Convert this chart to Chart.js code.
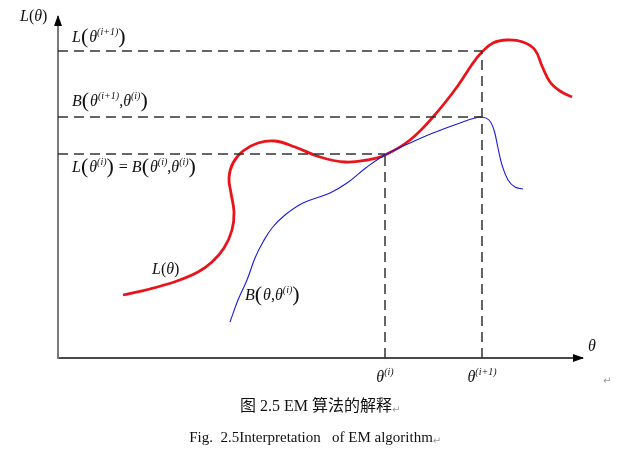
<!DOCTYPE html>
<html>
<head>
<meta charset="utf-8">
<script src="https://cdn.jsdelivr.net/npm/chart.js@4"></script>
<style>
  html, body { margin: 0; padding: 0; background: #fff; }
  #wrap { width: 623px; height: 461px; }
</style>
</head>
<body>
<div id="wrap"><canvas id="emChart" width="623" height="461"></canvas></div>
<script>
// curve points (theta units, L units)
const redX = [65, 92, 119, 140, 154, 166, 174, 176, 173, 171, 175, 185, 200, 217, 237, 262, 287, 309, 327, 352, 375, 399, 415, 424, 435, 449, 465, 477, 484, 492, 502, 514];
const redY = [63, 69, 77, 86, 96, 110, 128, 146, 165, 180, 195, 207, 215, 217, 211, 201, 196, 198, 203, 218, 241, 271, 295, 306, 315, 318, 316, 308, 292, 276, 267, 261];
const blueX = [172, 180, 189, 197, 205, 214, 227, 245, 272, 289, 309, 327, 352, 375, 402, 417, 424, 431, 436, 440, 444, 450, 457, 465];
const blueY = [36, 58, 78, 100, 116, 130, 143, 155, 165, 175, 191, 203, 215, 225, 235, 240, 241, 238, 228, 210, 193, 178, 171, 169];

// theta^(i), theta^(i+1) and the three levels
const thetaTicks = [327, 424];
const levels = [307, 241, 204];   // L(θ(i+1)), B(θ(i+1),θ(i)), L(θ(i))

const pts = (xs, ys) => xs.map((x, i) => ({ x: x, y: ys[i] }));

const dashStyle = { borderColor: '#333', borderWidth: 1.5, borderDash: [10, 6], pointRadius: 0, showLine: true, tension: 0 };

const datasets = [
  Object.assign({ data: [{ x: 0, y: levels[0] }, { x: thetaTicks[1], y: levels[0] }] }, dashStyle),
  Object.assign({ data: [{ x: 0, y: levels[1] }, { x: thetaTicks[1], y: levels[1] }] }, dashStyle),
  Object.assign({ data: [{ x: 0, y: levels[2] }, { x: thetaTicks[0], y: levels[2] }] }, dashStyle),
  Object.assign({ data: [{ x: thetaTicks[0], y: 0 }, { x: thetaTicks[0], y: levels[2] }] }, dashStyle),
  Object.assign({ data: [{ x: thetaTicks[1], y: 0 }, { x: thetaTicks[1], y: levels[0] }] }, dashStyle),
  { data: pts(blueX, blueY), borderColor: '#1a1ad8', borderWidth: 1.1, pointRadius: 0, showLine: true, tension: 0.4 },
  { data: pts(redX, redY), borderColor: '#e8141a', borderWidth: 2.8, pointRadius: 0, showLine: true, tension: 0.4 }
];

const SERIF = '"Liberation Serif", "DejaVu Serif", serif';

// draws math-ish text: parts of [text, kind] where kind: n normal, i italic, s superscript, p big paren
function drawRich(ctx, parts, x, y, size, align) {
  const fontFor = k => {
    if (k === 's') return 'italic ' + Math.round(size * 0.62) + 'px ' + SERIF;
    if (k === 'p') return Math.round(size * 1.4) + 'px ' + SERIF;
    if (k === 'i') return 'italic ' + size + 'px ' + SERIF;
    return size + 'px ' + SERIF;
  };
  let w = 0;
  parts.forEach(p => { ctx.font = fontFor(p[1]); w += ctx.measureText(p[0]).width + (p[1] === 'p' ? 1 : 0); });
  let cx = align === 'center' ? x - w / 2 : x;
  ctx.textBaseline = 'middle';
  ctx.textAlign = 'left';
  parts.forEach(p => {
    ctx.font = fontFor(p[1]);
    const dy = p[1] === 's' ? -size * 0.38 : (p[1] === 'p' ? -1 : 0);
    ctx.fillText(p[0], cx, y + dy);
    cx += ctx.measureText(p[0]).width + (p[1] === 'p' ? 1 : 0);
  });
}

const labelPlugin = {
  id: 'labels',
  afterDraw(chart) {
    const ctx = chart.ctx;
    const xs = chart.scales.x, ys = chart.scales.y;
    const a = chart.chartArea;
    ctx.save();
    ctx.fillStyle = '#000';
    // axis arrows
    ctx.beginPath();
    ctx.moveTo(a.left, a.top - 2); ctx.lineTo(a.left - 4, a.top + 9); ctx.lineTo(a.left + 4, a.top + 9); ctx.closePath();
    ctx.fill();
    ctx.beginPath();
    ctx.moveTo(a.right + 2, a.bottom); ctx.lineTo(a.right - 9, a.bottom - 4); ctx.lineTo(a.right - 9, a.bottom + 4); ctx.closePath();
    ctx.fill();

    ctx.fillStyle = '#111';
    const s = 16;
    drawRich(ctx, [['L', 'i'], ['(', 'n'], ['θ', 'i'], [')', 'n']], 20, 17, s, 'left');
    drawRich(ctx, [['L', 'i'], ['(', 'p'], ['θ', 'i'], ['(i+1)', 's'], [')', 'p']], 72, ys.getPixelForValue(levels[0]) - 13, s, 'left');
    drawRich(ctx, [['B', 'i'], ['(', 'p'], ['θ', 'i'], ['(i+1)', 's'], [',', 'n'], ['θ', 'i'], ['(i)', 's'], [')', 'p']], 72, ys.getPixelForValue(levels[1]) - 15, s, 'left');
    drawRich(ctx, [['L', 'i'], ['(', 'p'], ['θ', 'i'], ['(i)', 's'], [')', 'p'], [' = ', 'n'], ['B', 'i'], ['(', 'p'], ['θ', 'i'], ['(i)', 's'], [',', 'n'], ['θ', 'i'], ['(i)', 's'], [')', 'p']], 72, ys.getPixelForValue(levels[2]) + 14, s, 'left');
    drawRich(ctx, [['L', 'i'], ['(', 'n'], ['θ', 'i'], [')', 'n']], 152, 270, s, 'left');
    drawRich(ctx, [['B', 'i'], ['(', 'p'], ['θ', 'i'], [',', 'n'], ['θ', 'i'], ['(i)', 's'], [')', 'p']], 245, 296, s, 'left');
    drawRich(ctx, [['θ', 'i'], ['(i)', 's']], xs.getPixelForValue(thetaTicks[0]), a.bottom + 20, s, 'center');
    drawRich(ctx, [['θ', 'i'], ['(i+1)', 's']], xs.getPixelForValue(thetaTicks[1]), a.bottom + 20, s, 'center');
    drawRich(ctx, [['θ', 'i']], 588, 347, s, 'left');

    // captions
    ctx.textBaseline = 'middle';
    ctx.textAlign = 'left';
    ctx.font = '16px ' + SERIF + ', "Noto Sans CJK SC"';
    const cap1 = '图 2.5 EM 算法的解释';
    const w1 = ctx.measureText(cap1).width;
    ctx.fillText(cap1, 316 - w1 / 2, 407);
    ctx.fillStyle = '#999';
    ctx.font = '10px "DejaVu Sans"';
    ctx.fillText('↵', 316 + w1 / 2, 410);
    ctx.fillText('↵', 603, 381);

    ctx.fillStyle = '#111';
    ctx.font = '15px ' + SERIF;
    const cap2 = 'Fig.  2.5Interpretation   of EM algorithm';
    const w2 = ctx.measureText(cap2).width;
    ctx.fillText(cap2, 311 - w2 / 2, 438);
    ctx.fillStyle = '#999';
    ctx.font = '10px "DejaVu Sans"';
    ctx.fillText('↵', 311 + w2 / 2, 441);
    ctx.restore();
  }
};

new Chart(document.getElementById('emChart'), {
  type: 'scatter',
  data: { datasets: datasets },
  options: {
    responsive: false,
    animation: false,
    layout: { padding: { left: 58, top: 17, right: 41, bottom: 103 } },
    plugins: { legend: { display: false }, tooltip: { enabled: false } },
    scales: {
      x: {
        type: 'linear', min: 0, max: 524,
        grid: { display: false, drawTicks: false },
        ticks: { display: false },
        border: { display: true, color: '#4a4a4a', width: 2 }
      },
      y: {
        type: 'linear', min: 0, max: 341,
        grid: { display: false, drawTicks: false },
        ticks: { display: false },
        border: { display: true, color: '#7a7a7a', width: 2 }
      }
    }
  },
  plugins: [labelPlugin]
});
</script>
</body>
</html>
